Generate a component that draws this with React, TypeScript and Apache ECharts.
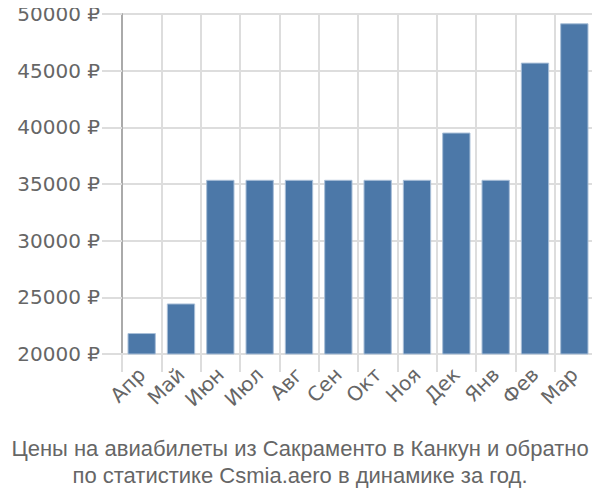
import React, { useEffect, useRef } from "react";
import * as echarts from "echarts";

const categories = ["Апр", "Май", "Июн", "Июл", "Авг", "Сен", "Окт", "Ноя", "Дек", "Янв", "Фев", "Мар"];
const prices = [21850, 24460, 35370, 35370, 35370, 35370, 35370, 35370, 39540, 35370, 45710, 49180];
const yMin = 20000;
const yMax = 50000;
const yStep = 5000;
const titleLines = [
  "Цены на авиабилеты из Сакраменто в Канкун и обратно",
  "по статистике Csmia.aero в динамике за год.",
];

export default function App() {
  const ref = useRef<HTMLDivElement>(null);
  useEffect(() => {
    if (!ref.current) return;
    const chart = echarts.init(ref.current, undefined, { renderer: "svg" });
    const font = "'Liberation Sans', Arial, sans-serif";
    const axisFont = "'DejaVu Sans', sans-serif";
    chart.setOption({
      animation: false,
      title: {
        text: titleLines.join("\n"),
        left: "center",
        top: 430,
        textStyle: {
          fontFamily: font,
          fontSize: 22,
          fontWeight: "normal",
          color: "#666",
          lineHeight: 27,
        },
      },
      grid: { left: 122, right: 6, top: 14, bottom: 146, containLabel: false },
      xAxis: {
        type: "category",
        data: categories,
        axisLine: { show: true, lineStyle: { color: "#ddd", width: 2 } },
        axisTick: { show: true, length: 18, lineStyle: { color: "#ddd", width: 2 } },
        splitLine: { show: true, lineStyle: { color: "#ddd", width: 2 } },
        axisLabel: {
          rotate: 45,
          margin: 17,
          fontFamily: axisFont,
          fontSize: 20,
          color: "#666",
        },
      },
      yAxis: {
        type: "value",
        min: yMin,
        max: yMax,
        interval: yStep,
        axisLine: { show: true, lineStyle: { color: "#aaa", width: 2 } },
        axisTick: { show: true, length: 20, lineStyle: { color: "#ddd", width: 2 } },
        splitLine: { show: true, lineStyle: { color: "#ddd", width: 2 } },
        axisLabel: {
          margin: 22,
          fontFamily: axisFont,
          fontSize: 20,
          color: "#666",
          formatter: (v: number) => `${v} ₽`,
        },
      },
      series: [
        {
          type: "bar",
          data: prices,
          barCategoryGap: "28%",
          itemStyle: { color: "#4c78a8", borderColor: "#a9bfd8", borderWidth: 1 },
        },
      ],
    });
    return () => chart.dispose();
  }, []);
  return <div ref={ref} style={{ width: 600, height: 500, margin: -8 }} />;
}
